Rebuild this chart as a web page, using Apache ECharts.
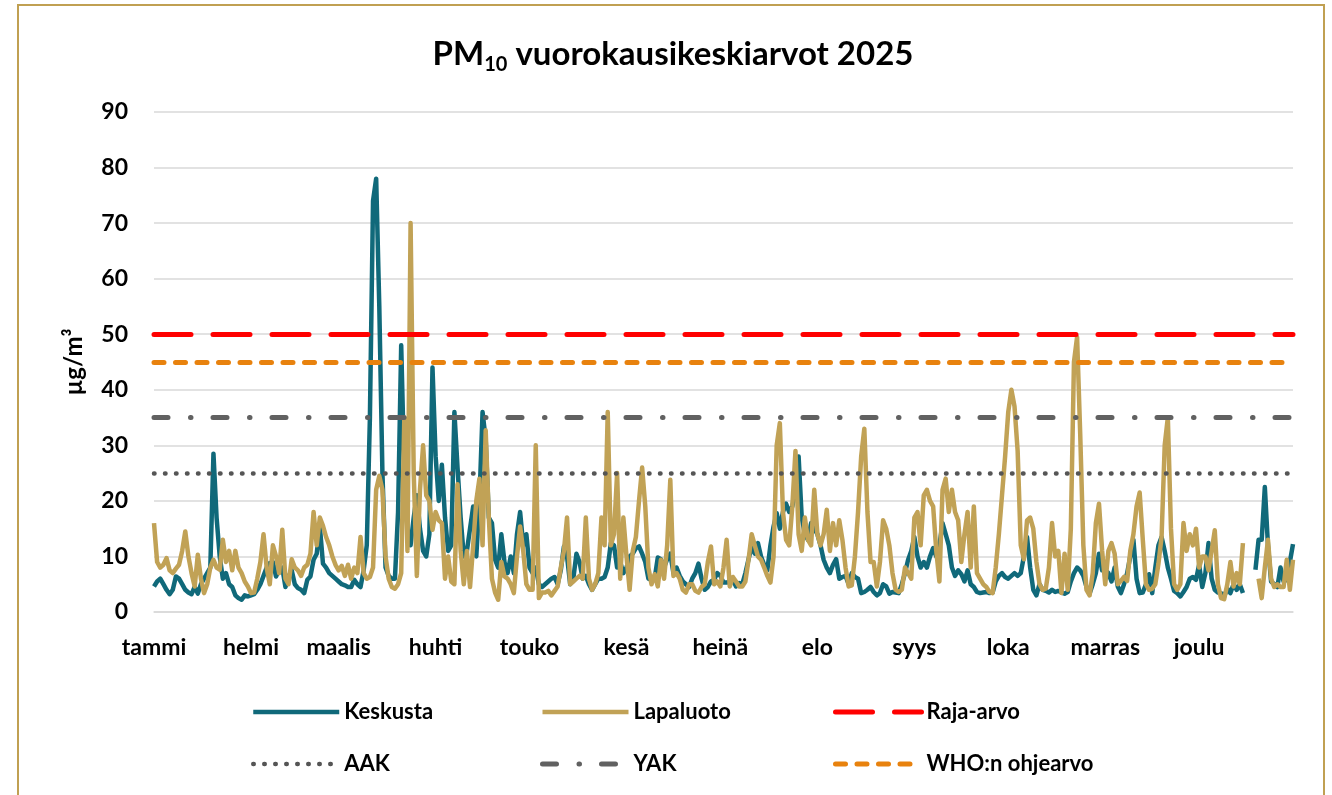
<!DOCTYPE html>
<html>
<head>
<meta charset="utf-8">
<script src="https://cdn.jsdelivr.net/npm/echarts@6/dist/echarts.min.js"></script>
<style>
  html, body { margin: 0; padding: 0; background: #fff; }
  #wrap { position: relative; width: 1332px; height: 795px; overflow: hidden; }
  #chart { position: absolute; left: 0; top: 0; width: 1332px; height: 795px; }
  #frame { position: absolute; left: 17px; top: 4px; width: 1304px; height: 820px;
           border: 2px solid #c0a052; pointer-events: none; }
</style>
</head>
<body>
<div id="wrap">
  <div id="chart"></div>
  <div id="frame"></div>
</div>
<script>
const YEAR = 2025;
const monthNames = ["tammi", "helmi", "maalis", "huhti", "touko", "kesä", "heinä", "elo", "syys", "loka", "marras", "joulu"];
const monthStarts = [0, 31, 59, 90, 120, 151, 181, 212, 243, 273, 304, 334];

// vuorokausikeskiarvot, µg/m3 (1.1. - 31.12.)
const keskusta = [
  4.6, 5.5, 6, 5, 4, 3.2, 4, 6.4, 6, 5,
  4, 3.5, 3.2, 4.5, 3.3, 5, 6, 7, 8, 28.5,
  17, 10, 6, 7, 5, 4.5, 3, 2.5, 2.2, 3,
  2.8, 3, 3.2, 4, 5, 6.5, 8, 8.8, 9, 6.4,
  7.5, 8, 4.5, 6.4, 7.5, 5, 4.3, 4, 3.4, 5.8,
  6.4, 9.4, 10.5, 15.4, 8.7, 8, 7, 6.5, 6, 5.5,
  5, 4.8, 4.5, 4.5, 5.8, 5, 4.5, 7.5, 12, 35,
  74, 78, 55, 25, 8, 6.5, 6, 6, 18, 48,
  25, 15, 12, 17, 21, 15, 11, 10, 14, 44,
  28, 20, 26.5, 17, 11, 12, 36, 26, 17, 10,
  11, 15, 19, 10, 20, 36, 31, 17, 16, 9.4,
  8, 14, 9, 7, 10, 7, 14, 18, 12, 14,
  8, 7, 8, 5, 4.5, 5, 5.5, 6, 6.3, 5,
  7.5, 11.8, 10, 5, 6, 10.5, 9, 6, 6.5, 5,
  4, 5, 6, 6, 6.3, 8, 12.4, 12, 8, 9,
  7, 8, 10, 10.5, 11.5, 11.8, 10.5, 9, 6, 5.8,
  6, 9.8, 9.5, 8, 9.5, 10.5, 7, 8, 6.5, 5.5,
  5, 4.5, 6, 7, 8.7, 6, 4, 4.5, 5.5, 5.8,
  7, 6.5, 5.3, 5.3, 5.5, 5.8, 4.6, 5.2, 5, 7,
  9.5, 11.8, 10.5, 12.4, 10, 8.5, 7.5, 12, 15.4, 17.8,
  15, 18, 19.5, 18, 19, 22, 28, 17, 14, 13,
  16, 15, 14, 12, 9.4, 8, 7, 8.5, 9.5, 6,
  6.3, 6.5, 5, 7, 6.3, 6, 3.4, 3.6, 4, 4.5,
  3.6, 3, 3.4, 5, 4.6, 3.3, 3.6, 3.5, 3.4, 5,
  7, 9.4, 11, 13.5, 10, 8, 9, 8, 10, 11.5,
  10, 12, 16, 14, 12, 8, 6.5, 7.5, 6.8, 5.5,
  7.5, 5, 4.5, 3.6, 3.4, 3.5, 3.6, 3.4, 3.5, 5.5,
  6.5, 7, 6.3, 6, 6.5, 7, 6.5, 7, 10, 13.5,
  8, 4, 3, 5, 4, 3.8, 3.5, 4, 3.6, 3.8,
  3.5, 3.3, 3.6, 5.5, 7, 8, 7.5, 6.5, 4.5, 3.3,
  5, 7, 10.5, 7.5, 7.6, 7, 5.5, 8, 4.6, 3.4,
  5, 7, 10, 13, 6, 3.4, 3.5, 5, 6.8, 3.4,
  8, 12, 13.5, 11, 8, 6, 3.8, 3.4, 2.8, 3.6,
  4.5, 6, 6.3, 5.8, 8.5, 4.5, 7, 12.4, 6, 4,
  3.5, 3.4, 2.8, 4.2, 3.4, 5, 4, 5, 3.4, null,
  null, null, 7.6, 13, 13, 22.5, 12, 5.5, 5, 4.5,
  8, 5.5, 5.8, 9, 12.2
];

const lapaluoto = [
  16, 9, 8, 8.5, 9.7, 7.5, 7, 7.8, 8.5, 11,
  14.5, 10, 7, 4.6, 10.3, 6, 3.4, 5, 8, 9.4,
  8, 7.6, 13, 9, 11, 7.5, 11, 8, 7, 5.5,
  4.6, 3.4, 3.5, 6, 9, 14, 8, 5, 12, 10,
  7, 14.8, 6, 5, 9.5, 8, 7.5, 6.5, 8, 8.5,
  10.5, 18, 12, 17, 15.5, 13.5, 12, 10, 8.5, 7.5,
  8.3, 6.5, 8.5, 6, 8, 7, 13.5, 7, 6, 6.3,
  8, 22, 24.5, 22, 10, 6, 4.5, 4.2, 5, 7,
  35, 11, 70, 25, 6.5, 22, 30, 21, 20, 14.8,
  18, 16.5, 16, 6, 10, 5.5, 5, 23, 11, 5,
  11, 4.5, 12, 20, 24, 12, 32.7, 17, 6, 3.5,
  2.2, 9, 6.4, 6, 5, 3.4, 10, 15.4, 11, 5,
  4, 4, 30, 2.5, 3.5, 3.5, 3.8, 3, 3.8, 4.6,
  8, 11, 17, 5, 5.5, 6, 6.5, 6, 17, 6,
  4, 5, 7, 17, 12, 36, 12, 14, 25, 6,
  17, 10, 4, 11, 13.5, 20, 26, 19, 8, 5,
  6.8, 4.6, 9.4, 6, 12, 23.8, 6.5, 7, 6, 4,
  3.5, 5, 5, 3.8, 3.5, 4.5, 5, 9, 11.8, 5,
  5.5, 4.6, 8, 13, 4.6, 6.3, 5.5, 4.6, 4.6, 5.5,
  9.4, 14, 12, 10, 9.4, 8, 6.5, 5.3, 10, 30,
  34, 18, 13, 12, 19, 29, 14, 11, 17, 13,
  12, 22, 14, 12, 14, 18.4, 11, 16, 12, 16.5,
  13, 8, 4.6, 4.8, 10, 18, 28, 33, 18, 9,
  9, 4.6, 9, 16.5, 15, 12, 7, 4, 3.6, 4,
  8, 7, 6, 17, 18, 12, 21, 22, 20, 19,
  11, 5.5, 22, 24, 18, 22, 18, 16.5, 9, 14,
  18, 8, 19, 7, 6, 5, 4.5, 3.6, 3.4, 8,
  14, 21, 28, 36, 40, 37, 29, 12, 9.5, 16.5,
  17, 15, 9, 5, 4, 4.2, 8, 16, 10, 11,
  3.4, 10.5, 4, 15, 45, 49.5, 32, 12, 4, 3,
  7, 16, 19.5, 11, 5, 11, 12.4, 10.5, 5, 5.6,
  6.3, 5.6, 11, 14, 19, 21.5, 13, 5, 4, 4.2,
  5, 8.7, 13.5, 30, 35, 15, 5, 4, 5, 16,
  11, 14, 12, 15, 8, 10, 10, 7.5, 11, 14.7,
  5, 2.5, 2.3, 5, 9, 4.6, 7, 5, 12.4, null,
  null, null, null, 6, 2.5, 8, 13, 6, 4.5, 5,
  4.5, 4.5, 9.4, 4, 9.4
];

// raja- ja ohjearvot
const RAJA_ARVO = 50;
const WHO_OHJEARVO = 45;
const YAK = 35;
const AAK = 25;

if (keskusta.length !== 365 || lapaluoto.length !== 365) {
  throw new Error("data length " + keskusta.length + " / " + lapaluoto.length);
}

// päivät
let days = [];
let d = new Date(Date.UTC(YEAR, 0, 1));
while (d.getUTCFullYear() === YEAR) {
  days.push(d.toISOString().slice(0, 10));
  d = new Date(d.getTime() + 86400000);
}

const FONT = "Lato";

const styles = {
  "Keskusta": { color: "#10697a", width: 4.5, type: "solid", join: "round" },
  "Lapaluoto": { color: "#c1a256", width: 4.5, type: "solid", join: "round" },
  "Raja-arvo": { color: "#ff0000", width: 5, type: [37, 22], cap: "round" },
  "AAK": { color: "#555555", width: 4.5, type: [0.5, 10.5], cap: "round" },
  "YAK": { color: "#616161", width: 5, type: [14, 22.5, 0.5, 22], cap: "round" },
  "WHO:n ohjearvo": { color: "#e8820e", width: 5, type: [10, 11.5], cap: "round" },
};

function limitSeries(name, value) {
  const style = styles[name];
  return {
    name: name,
    type: "line",
    data: [],
    symbol: "none",
    lineStyle: style,
    itemStyle: { color: style.color },
    markLine: {
      silent: true,
      symbol: "none",
      label: { show: false },
      lineStyle: style,
      emphasis: { disabled: true },
      data: [{ yAxis: value }],
    },
    z: 5,
  };
}

function legendColumn(left, names) {
  return {
    left: left,
    top: 696,
    orient: "vertical",
    itemWidth: 86,
    itemHeight: 14,
    itemGap: 30,
    selectedMode: false,
    itemStyle: { opacity: 0 },
    data: names.map((n) => ({
      name: n,
      itemStyle: { opacity: 0 },
      lineStyle: { color: styles[n].color, width: styles[n].width, type: styles[n].type, cap: styles[n].cap || "butt" },
    })),
    textStyle: { fontFamily: FONT, fontWeight: "bold", fontSize: 22, color: "#000" },
  };
}

const chart = echarts.init(document.getElementById("chart"), null, { renderer: "canvas" });

const option = {
  backgroundColor: "#fff",
  animation: false,
  title: {
    left: 668,
    top: 28,
    textAlign: "center",
    text: "{a|PM}{b|10}{a| vuorokausikeskiarvot 2025}",
    textStyle: {
      rich: {
        a: { fontFamily: FONT, fontWeight: "bold", fontSize: 33, lineHeight: 42, color: "#000" },
        b: { fontFamily: FONT, fontWeight: "bold", fontSize: 20, lineHeight: 18, verticalAlign: "bottom", color: "#000" },
      },
    },
  },
  legend: [
    legendColumn(246, ["Keskusta", "AAK"]),
    legendColumn(535, ["Lapaluoto", "YAK"]),
    legendColumn(828, ["Raja-arvo", "WHO:n ohjearvo"]),
  ],
  grid: { left: 154, right: 39, top: 112, bottom: 183 },
  xAxis: {
    type: "category",
    data: days,
    boundaryGap: false,
    axisLine: { show: true, lineStyle: { color: "#d9d9d9", width: 1.5 } },
    axisTick: { show: false },
    axisLabel: {
      interval: (idx) => monthStarts.indexOf(idx) >= 0,
      formatter: (v, idx) => monthNames[monthStarts.indexOf(idx)],
      margin: 24,
      fontFamily: FONT,
      fontWeight: "bold",
      fontSize: 23,
      color: "#000",
    },
    splitLine: { show: false },
  },
  yAxis: {
    type: "value",
    min: 0,
    max: 90,
    interval: 10,
    name: "µg/m³",
    nameLocation: "middle",
    nameRotate: 90,
    nameGap: 68,
    nameTextStyle: { fontFamily: FONT, fontWeight: "bold", fontSize: 24, color: "#000" },
    axisLine: { show: false },
    axisTick: { show: false },
    axisLabel: { margin: 26, fontFamily: FONT, fontWeight: "bold", fontSize: 23, color: "#000" },
    splitLine: { lineStyle: { color: "#d9d9d9", width: 1.5 } },
  },
  series: [
    {
      name: "Keskusta",
      type: "line",
      data: keskusta,
      symbol: "none",
      connectNulls: false,
      lineStyle: styles["Keskusta"],
      itemStyle: { color: styles["Keskusta"].color },
      z: 2,
    },
    {
      name: "Lapaluoto",
      type: "line",
      data: lapaluoto,
      symbol: "none",
      connectNulls: false,
      lineStyle: styles["Lapaluoto"],
      itemStyle: { color: styles["Lapaluoto"].color },
      z: 3,
    },
    limitSeries("Raja-arvo", RAJA_ARVO),
    limitSeries("AAK", AAK),
    limitSeries("YAK", YAK),
    limitSeries("WHO:n ohjearvo", WHO_OHJEARVO),
  ],
};

chart.setOption(option);
</script>
</body>
</html>
